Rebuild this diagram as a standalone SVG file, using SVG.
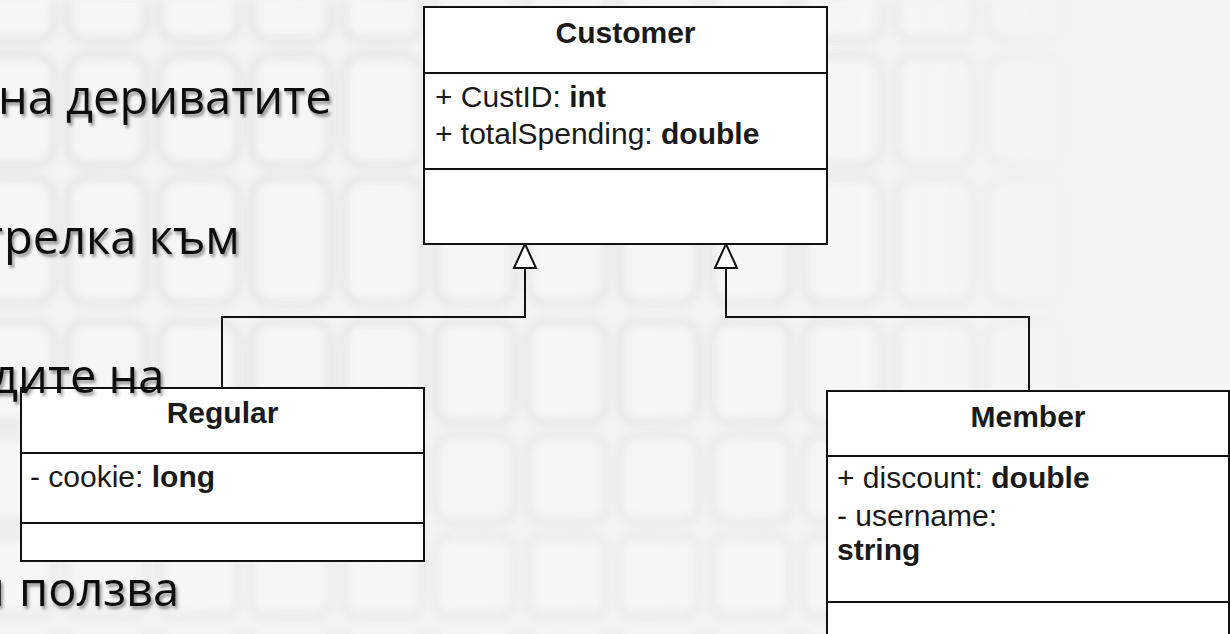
<svg xmlns="http://www.w3.org/2000/svg" width="1230" height="634" viewBox="0 0 1230 634">
  <defs>
    <style>
      .box { fill: #ffffff; stroke: #111111; stroke-width: 2; }
      .div { stroke: #111111; stroke-width: 2; }
      .title { font-family: "Liberation Sans", Arial, sans-serif; font-size: 30px; font-weight: bold; fill: #1a1a1a; text-anchor: middle; }
      .attr { font-family: "Liberation Sans", Arial, sans-serif; font-size: 30px; fill: #1a1a1a; }
      .attr .t { font-weight: bold; }
      .edge { fill: none; stroke: #111111; stroke-width: 2; }
      .slide { font-family: "Open Sans", "Noto Sans", sans-serif; font-size: 47px; fill: #111111; filter: url(#shadow); }
    </style>
    <!-- hollow generalization arrowhead -->
    <marker id="gen" viewBox="0 0 26 24" refX="25" refY="12" markerWidth="26" markerHeight="24" markerUnits="userSpaceOnUse" orient="auto" overflow="visible">
      <path d="M1,1 L25,12 L1,23 Z" fill="#ffffff" stroke="#111111" stroke-width="2" stroke-linejoin="miter"/>
    </marker>
    <filter id="shadow" x="-10%" y="-30%" width="130%" height="170%">
      <feDropShadow dx="2" dy="3" stdDeviation="1.6" flood-color="#000000" flood-opacity="0.4"/>
    </filter>
    <filter id="soft" x="-5%" y="-5%" width="110%" height="110%">
      <feGaussianBlur stdDeviation="4"/>
    </filter>
    <!-- leather scale tile -->
    <pattern id="scales" patternUnits="userSpaceOnUse" x="-30" y="0" width="92" height="634">
      <rect x="6" y="-45" width="78" height="85" rx="18" fill="#f7f7f7" stroke="#dadada" stroke-width="5"/>
      <rect x="6" y="55" width="78" height="110" rx="20" fill="#f7f7f7" stroke="#dadada" stroke-width="5"/>
      <rect x="6" y="178" width="78" height="125" rx="20" fill="#f7f7f7" stroke="#dadada" stroke-width="5"/>
      <rect x="6" y="322" width="78" height="100" rx="18" fill="#f7f7f7" stroke="#dadada" stroke-width="5"/>
      <rect x="6" y="436" width="78" height="86" rx="16" fill="#f7f7f7" stroke="#dedede" stroke-width="5"/>
      <rect x="6" y="536" width="78" height="80" rx="16" fill="#f7f7f7" stroke="#e2e2e2" stroke-width="5"/>
    </pattern>
    <linearGradient id="fadeGrad" x1="0" y1="0" x2="1" y2="0">
      <stop offset="0" stop-color="#ffffff" stop-opacity="1"/>
      <stop offset="0.7" stop-color="#ffffff" stop-opacity="0.85"/>
      <stop offset="0.88" stop-color="#ffffff" stop-opacity="0"/>
    </linearGradient>
    <mask id="fade" maskUnits="userSpaceOnUse" x="0" y="0" width="1230" height="634">
      <rect x="0" y="0" width="1230" height="634" fill="url(#fadeGrad)"/>
    </mask>
  </defs>

  <!-- background -->
  <rect x="0" y="0" width="1230" height="634" fill="#f3f3f3"/>
  <g mask="url(#fade)">
    <rect x="-10" y="-10" width="1250" height="654" fill="url(#scales)" filter="url(#soft)" opacity="0.75"/>
  </g>

  <!-- connectors -->
  <g id="connectors">
    <path class="edge" d="M222,388 V317 H525 V244" marker-end="url(#gen)"/>
    <path class="edge" d="M1029,391 V317 H726 V244" marker-end="url(#gen)"/>
  </g>

  <!-- class Customer -->
  <g id="customer">
    <rect class="box" x="424" y="7" width="403" height="237"/>
    <line class="div" x1="424" y1="73" x2="827" y2="73"/>
    <line class="div" x1="424" y1="169" x2="827" y2="169"/>
    <text class="title" x="625.5" y="43">Customer</text>
    <text class="attr" x="435" y="107">+ CustID: <tspan class="t">int</tspan></text>
    <text class="attr" x="435" y="144">+ totalSpending: <tspan class="t">double</tspan></text>
  </g>

  <!-- class Regular -->
  <g id="regular">
    <rect class="box" x="21" y="388" width="403" height="173"/>
    <line class="div" x1="21" y1="453" x2="424" y2="453"/>
    <line class="div" x1="21" y1="523" x2="424" y2="523"/>
    <text class="title" x="222.5" y="423">Regular</text>
    <text class="attr" x="30" y="487">- cookie: <tspan class="t">long</tspan></text>
  </g>

  <!-- class Member -->
  <g id="member">
    <rect class="box" x="827" y="391" width="402" height="260"/>
    <line class="div" x1="827" y1="456" x2="1229" y2="456"/>
    <line class="div" x1="827" y1="602" x2="1229" y2="602"/>
    <text class="title" x="1028" y="427">Member</text>
    <text class="attr" x="837" y="488">+ discount: <tspan class="t">double</tspan></text>
    <text class="attr" x="837" y="526">- username:</text>
    <text class="attr" x="837" y="560" font-weight="bold">string</text>
  </g>

  <!-- slide text running under the class boxes -->
  <g id="slide-text">
    <text class="slide" x="-2" y="114">на дериватите</text>
    <text class="slide" y="254"><tspan x="-19">т</tspan><tspan x="4">релка към</tspan></text>
    <text class="slide" x="-9" y="393">дите на</text>
    <text class="slide" y="606"><tspan x="-25">и</tspan><tspan x="19">ползва</tspan></text>
  </g>
</svg>
